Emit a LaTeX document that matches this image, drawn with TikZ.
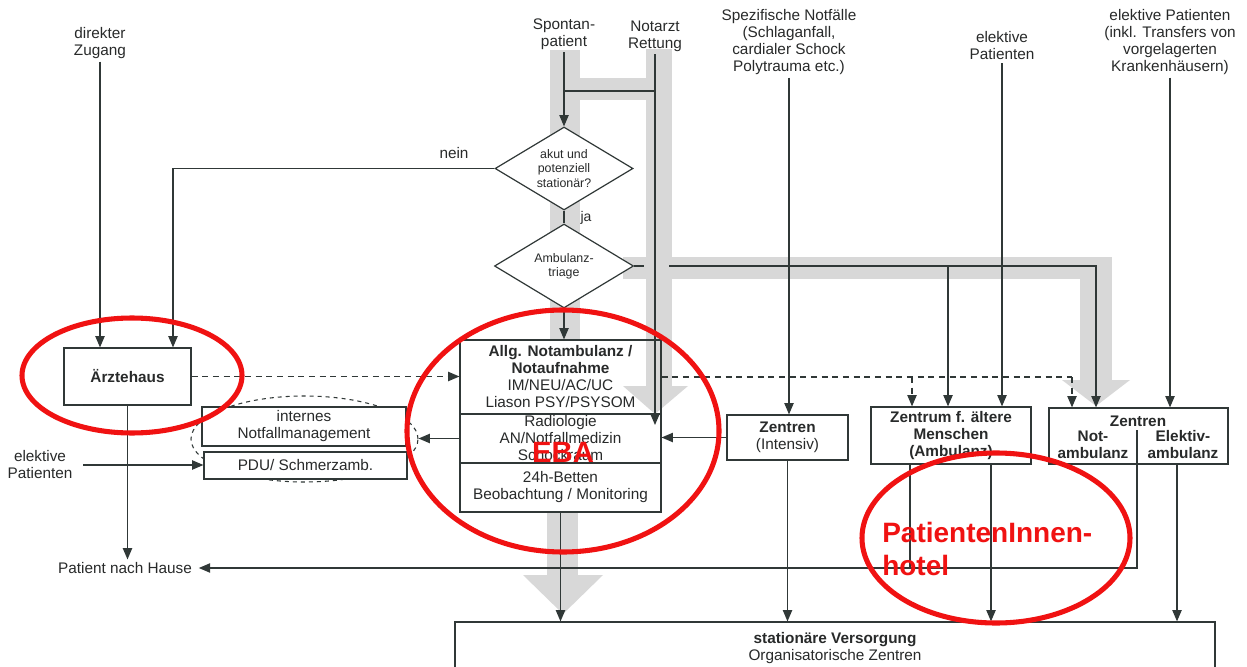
\documentclass[tikz,border=0pt]{standalone}
\usepackage{fontspec}
\setmainfont{Liberation Sans}
\usetikzlibrary{arrows.meta,shapes.geometric}
\definecolor{ink}{RGB}{48,56,55}
\definecolor{txt}{RGB}{40,42,42}
\definecolor{band}{RGB}{216,216,216}
\definecolor{mark}{RGB}{240,18,18}

\begin{document}
\begin{tikzpicture}[x=0.75pt,y=-0.75pt,
  every node/.style={text=txt},
  base/.style={font=\fontsize{11.5}{12.75}\selectfont},
  bold/.style={font=\fontsize{11.5}{12.75}\selectfont\bfseries},
  lbl/.style={base, align=center, inner sep=2pt},
  box/.style={base, draw=ink, line width=0.9pt, fill=white, align=center, inner sep=0pt},
  openbox/.style={box, fill=none},
  dia/.style={draw=ink, line width=0.9pt, fill=white, diamond, aspect=1.66,
              inner sep=0pt, align=center, font=\fontsize{9.3}{10.6}\selectfont},
  conn/.style={draw=ink, line width=0.9pt},
  arr/.style={conn, -{Triangle[length=8.5pt,width=7pt]}},
  darr/.style={arr, dash pattern=on 4.5pt off 3.5pt},
  dline/.style={conn, dash pattern=on 4.5pt off 3.5pt},
  redring/.style={draw=mark, line width=3.8pt},
]
\useasboundingbox (0,0) rectangle (1247,667);
\clip (0,0) rectangle (1247,667);
\fill[white] (0,0) rectangle (1247,667);

% ---- broad grey flow bands (background) ----
\fill[band] (550,50) rectangle (580,340);
\fill[band] (550,78) rectangle (672,100);
\fill[band] (646,49) rectangle (672,386);
\fill[band] (623,386) -- (688,386) -- (655,414) -- cycle;
\fill[band] (623,257) rectangle (1112,279);
\fill[band] (1080,257) rectangle (1112,380);
\fill[band] (1062,380) -- (1130,380) -- (1096,406) -- cycle;
\fill[band] (547,512) rectangle (578,575);
\fill[band] (523,575) -- (603,575) -- (563,614) -- cycle;

% ---- entry labels ----
\node[lbl] (direkt)  at (100,43)  {direkter\\Zugang};
\node[lbl] (spontan) at (564,34)  {Spontan-\\patient};
\node[lbl] (notarzt) at (655,36)  {Notarzt\\Rettung};
\node[lbl] (spez)    at (789,42)  {Spezifische Notfälle\\(Schlaganfall,\\cardialer Schock\\Polytrauma etc.)};
\node[lbl] (elek)    at (1002,46) {elektive\\Patienten};
\node[lbl] (elekinkl) at (1170,42) {elektive Patienten\\(inkl. Transfers von\\vorgelagerten\\Krankenhäusern)};
\node[lbl] (elekleft) at (40,465) {elektive\\Patienten};
\node[lbl] (hause)   at (125,568) {Patient nach Hause};
\node[base] (nein) at (454,153) {nein};
\node[font=\fontsize{10.5}{12}\selectfont] (ja) at (586,218) {ja};

% ---- decisions ----
\node[dia, minimum width=103.5pt, minimum height=62.25pt] (d1) at (564,168.5) {akut und\\potenziell\\stationär?};
\node[dia, minimum width=104.25pt, minimum height=63pt] (d2) at (564,266) {Ambulanz-\\triage};

% ---- boxes ----
\node[dashed, draw=ink, line width=0.8pt, ellipse, minimum width=170.25pt, minimum height=64.5pt] (nfell) at (304.5,439) {};
\node[box, minimum width=95.25pt, minimum height=42.75pt] (aerzte) at (127.5,376.5) {\bfseries Ärztehaus};
\node[box, minimum width=153pt, minimum height=29.25pt] (internes) at (304,426.5) {internes\\Notfallmanagement};
\node[box, minimum width=152.25pt, minimum height=20.25pt] (pdu) at (305.5,465.5) {PDU/ Schmerzamb.};

\node[openbox, minimum width=150.75pt, minimum height=55.5pt] (main1) at (560.5,377)
  {{\bfseries Allg. Notambulanz /}\\{\bfseries Notaufnahme}\\IM/NEU/AC/UC\\Liason PSY/PSYSOM};
\node[openbox, minimum width=150.75pt, minimum height=36.75pt] (main2) at (560.5,438.5)
  {Radiologie\\AN/Notfallmedizin\\Schockraum};
\node[openbox, minimum width=150.75pt, minimum height=36.75pt] (main3) at (560.5,487.5)
  {24h-Betten\\Beobachtung / Monitoring};

\node[box, minimum width=90.75pt, minimum height=33.75pt] (intensiv) at (787.5,437.5) {{\bfseries Zentren}\\(Intensiv)};
\node[box, minimum width=120pt, minimum height=42.75pt] (aeltere) at (951,435.5)
  {\bfseries Zentrum f. ältere\\\bfseries Menschen\\\bfseries (Ambulanz)};
\node[box, minimum width=134.25pt, minimum height=42pt] (zentren) at (1138.5,436) {};
\node[bold] (ztitle) at (1138,421) {Zentren};
\node[bold, align=center] (znot) at (1093,445) {Not-\\ambulanz};
\node[bold, align=center] (zel) at (1183,445) {Elektiv-\\ambulanz};

\node[box, minimum width=570pt, minimum height=58.5pt] (stat) at (835,661) {};
\node[base, align=center] (stattxt) at (835,648) {{\bfseries stationäre Versorgung}\\Organisatorische Zentren};

% ---- helper points ----
\coordinate (topjoin) at (0,91);
\coordinate (neinx) at (173,0);
\coordinate (notarztend) at (655,425);
\coordinate (tgapl) at (644,266);
\coordinate (tgapr) at (669,266);
\coordinate (tbranch) at (948,266);
\coordinate (tcorner) at (1096,266);
\coordinate (dbranch) at (912,377);
\coordinate (dcorner) at (1072,377);
\coordinate (aeltL) at (910,0);
\coordinate (aeltR) at (991,0);
\coordinate (zdivtop) at (1137,430);
\coordinate (zR) at (1177,0);

% ---- connectors: entry ----
\draw[arr] (direkt.south) -- (direkt.south |- aerzte.north);
\draw[arr] (spontan.south) -- (d1.north);
\draw[conn] (spontan.south |- topjoin) -- (notarzt.south |- topjoin);
\draw[arr] (notarzt.south) -- (notarztend);
\draw[conn] (d1.south) -- (d2.north);
\draw[arr] (d1.west) -| (neinx |- aerzte.north);
\draw[arr] (d2.south) -- (d2.south |- main1.north);
\draw[arr] (spez.south) -- (spez.south |- intensiv.north);
\draw[arr] (elek.south) -- (elek.south |- aeltere.north);
\draw[arr] (elekinkl.south) -- (elekinkl.south |- zentren.north);
\draw[arr] ([xshift=6pt]elekleft.east) -- (elekleft.east -| pdu.west);

% ---- triage distribution ----
\draw[conn] (d2.east) -- (tgapl);
\draw[arr] (tgapr) -- (tcorner) -- (tcorner |- zentren.north);
\draw[arr] (tbranch) -- (tbranch |- aeltere.north);

% ---- dashed referrals ----
\draw[darr] (aerzte.east) -- (aerzte.east -| main1.west);
\draw[dline] (main1.east) -- (dcorner);
\draw[darr] (dcorner) -- (dcorner |- zentren.north);
\draw[darr] (dbranch) -- (dbranch |- aeltere.north);

% ---- side links ----
\draw[arr] (main2.west) -- (main2.west -| nfell.east);
\draw[arr] (intensiv.west) -- (intensiv.west -| main2.east);

% ---- outflows ----
\draw[arr] (aerzte.south) -- (aerzte.south |- hause.north);
\draw[arr] (main3.south) -- (main3.south |- stat.north);
\draw[arr] (intensiv.south) -- (intensiv.south |- stat.north);
\draw[conn] (aeltL |- aeltere.south) -- (aeltL |- 0,569);
\draw[arr] (aeltR |- aeltere.south) -- (aeltR |- stat.north);
\draw[arr] (zdivtop) |- ([xshift=3pt]hause.east);
\draw[arr] (zR |- zentren.south) -- (zR |- stat.north);

% ---- red annotations ----
\draw[redring] (132,375.5) ellipse [x radius=110, y radius=57.5];
\draw[redring] (563,431) ellipse [x radius=156, y radius=121];
\draw[redring] (996,538) ellipse [x radius=134, y radius=85];
\node[text=mark, font=\bfseries\fontsize{22}{22}\selectfont, inner sep=0pt] (eba) at (563,452) {EBA};
\node[text=mark, font=\bfseries\fontsize{21}{24.75}\selectfont, align=left, anchor=north west, inner sep=0pt] (hotel) at (882,522) {PatientenInnen-\\hotel};
\end{tikzpicture}
\end{document}
